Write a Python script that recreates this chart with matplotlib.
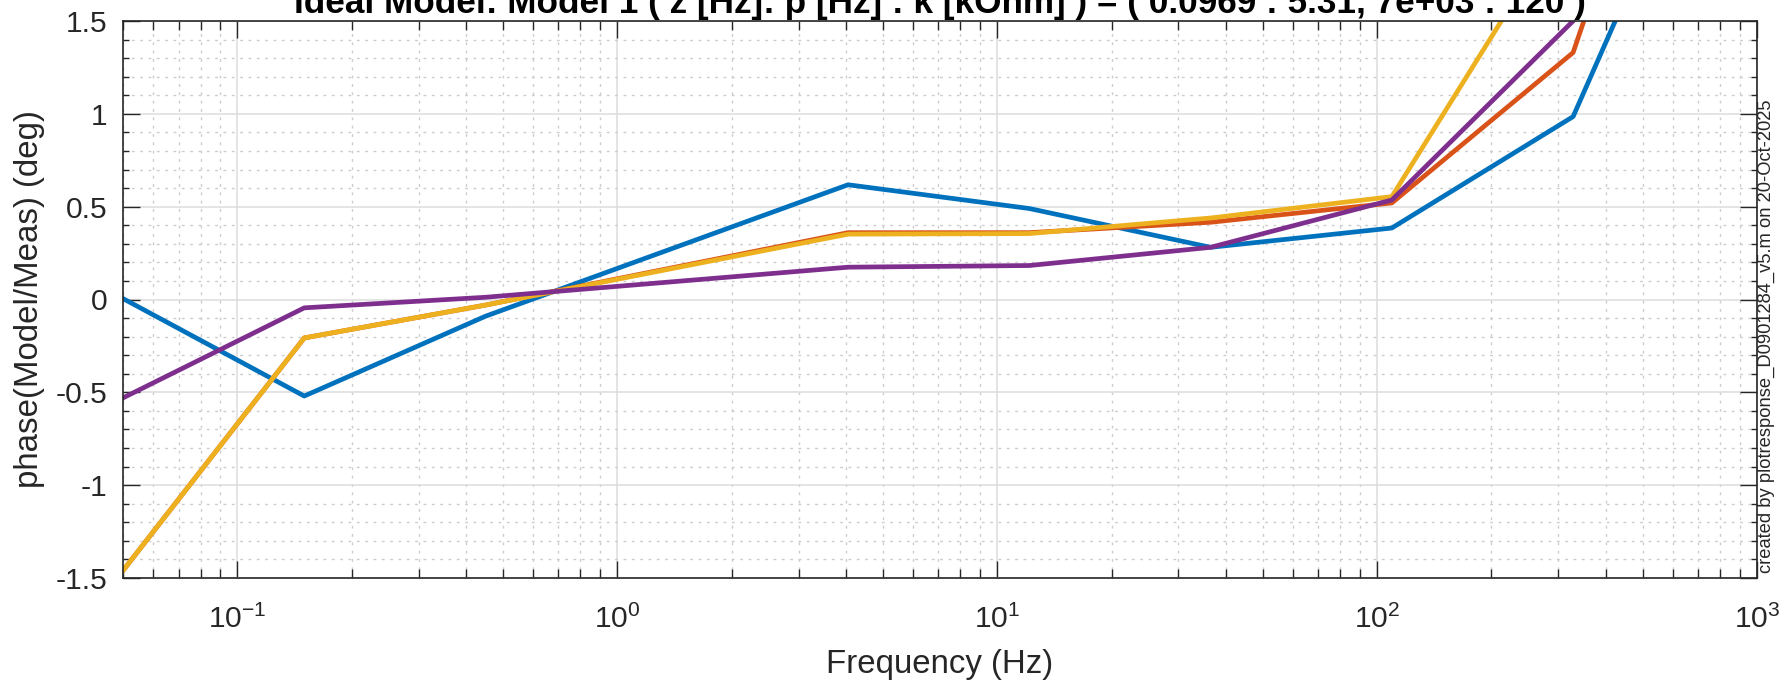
import numpy as np
import matplotlib
matplotlib.use('Agg')
import matplotlib.pyplot as plt
from matplotlib.ticker import LogLocator, MultipleLocator, NullFormatter

# frequencies of the measured points (Hz)
freq = [0.05, 0.15, 0.45, 4.05, 12.15, 36.45, 109.35, 328.05, 984.15]

# phase residuals (deg), one list per channel
phase_blue = [0.005, -0.52, -0.09, 0.618, 0.49, 0.281, 0.385, 0.985, 3.2]
phase_orange = [-1.46, -0.207, -0.03, 0.36, 0.36, 0.416, 0.52, 1.33, 4.2]
phase_yellow = [-1.46, -0.207, -0.03, 0.352, 0.355, 0.439, 0.554, 2.12, 4.0]
phase_purple = [-0.53, -0.045, 0.012, 0.174, 0.183, 0.281, 0.536, 1.50, 3.5]

ytick_vals = [-1.5, -1, -0.5, 0, 0.5, 1, 1.5]
ytick_labels = ['-1.5', '-1', '-0.5', '0', '0.5', '1', '1.5']

title = 'Ideal Model: Model 1 ( z [Hz]: p [Hz] : k [kOhm] ) = ( 0.0969 : 5.31, 7e+03 : 120 )'
stamp = 'created by plotresponse_D0901284_v5.m on 20-Oct-2025'

plt.rcParams['font.family'] = ['Liberation Sans', 'DejaVu Sans']
plt.rcParams['axes.unicode_minus'] = False

W, H = 1786, 683
fig = plt.figure(figsize=(W / 100, H / 100), dpi=100)
ax = fig.add_axes([123 / W, 105 / H, (1757 - 123) / W, (578 - 21) / H])

# matlab default line colours
ax.semilogx(freq, phase_blue, color='#0072BD', lw=3.4)
ax.semilogx(freq, phase_orange, color='#D95319', lw=3.4)
ax.semilogx(freq, phase_yellow, color='#EDB120', lw=3.4)
ax.semilogx(freq, phase_purple, color='#7E2F8E', lw=3.4)

ax.set_xlim(0.05, 1000)
ax.set_ylim(-1.5, 1.5)
ax.set_yticks(ytick_vals)
ax.set_yticklabels(ytick_labels)
ax.yaxis.set_minor_locator(MultipleLocator(0.1))
ax.xaxis.set_major_locator(LogLocator(base=10, numticks=20))
ax.xaxis.set_minor_locator(LogLocator(base=10, subs=np.arange(2, 10), numticks=20))
ax.xaxis.set_minor_formatter(NullFormatter())

ax.tick_params(which='both', direction='in', top=True, right=True,
               color='#262626', labelcolor='#262626')
ax.tick_params(which='major', length=12, width=1, labelsize=21.6)
ax.tick_params(axis='x', which='major', pad=19)
ax.tick_params(axis='y', which='major', pad=11)
ax.tick_params(axis='x', which='minor', length=6.5, width=1)
ax.tick_params(axis='y', which='minor', length=4, width=1)
for sp in ax.spines.values():
    sp.set_color('#262626')
    sp.set_linewidth(1.2)

ax.grid(which='major', color='#dcdcdc', lw=1.1, ls='-')
ax.grid(which='minor', color='#cccccc', lw=1.0, ls=(0, (2, 4)))
ax.set_axisbelow(True)

ax.set_xlabel('Frequency (Hz)', fontsize=23.8, color='#262626', labelpad=11)
ax.set_ylabel('phase(Model/Meas) (deg)', fontsize=23.8, color='#262626', labelpad=8)
ax.text(0.5, 1.0135, title, transform=ax.transAxes, ha='center', va='baseline',
        fontsize=25.3, fontweight='bold')

fig.text(1766 / W, 1 - 573 / H, stamp, rotation=90, ha='center', va='bottom',
         fontsize=13.2, color='#262626')

fig.savefig('out.png', dpi=100)
